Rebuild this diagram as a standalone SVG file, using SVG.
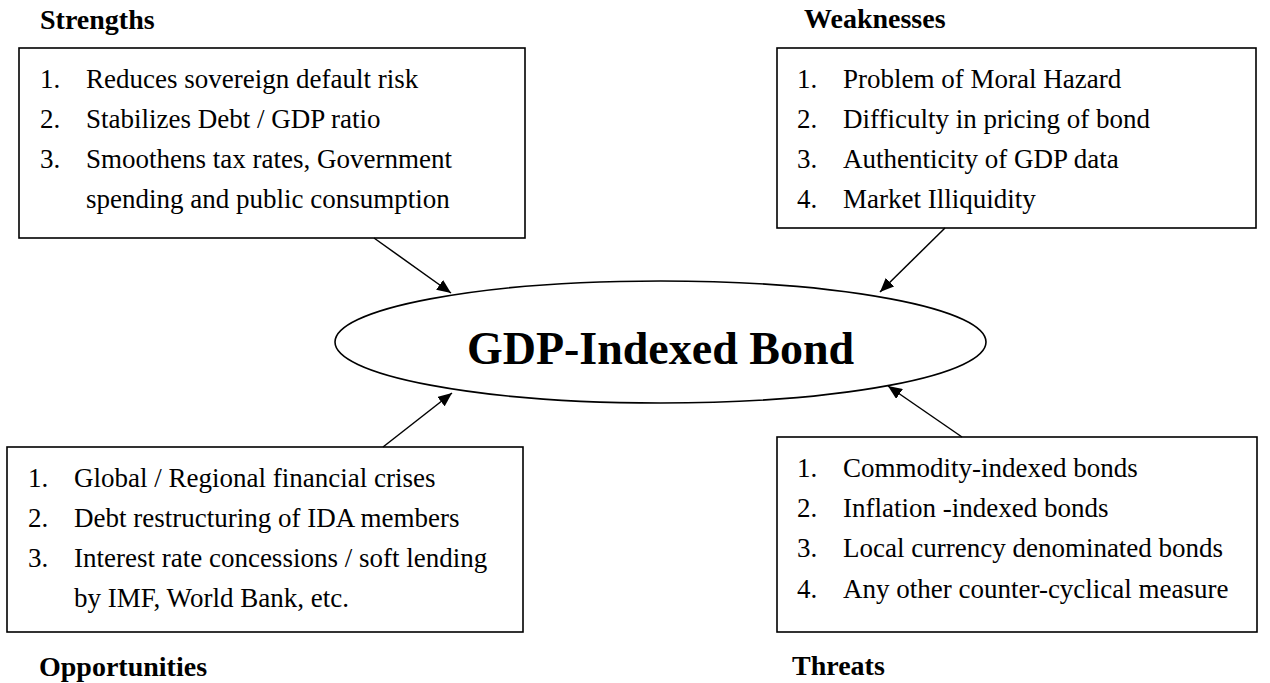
<svg xmlns="http://www.w3.org/2000/svg" width="1270" height="683" viewBox="0 0 1270 683">
<style>
text{font-family:"Liberation Serif","Times New Roman",serif;fill:#000}
.item{font-size:27px}
.label{font-size:28px;font-weight:bold}
.title{font-size:46px;font-weight:bold}
.box{fill:#fff;stroke:#000;stroke-width:1.6}
.conn{stroke:#000;stroke-width:1.5;fill:none}
</style>
<defs>
<marker id="ah" viewBox="0 0 14 12" refX="14" refY="6" markerWidth="14" markerHeight="12" markerUnits="userSpaceOnUse" orient="auto">
<path d="M0,0 L14,6 L0,12 Z" fill="#000"/>
</marker>
</defs>
<rect width="1270" height="683" fill="#fff"/>

<g id="strengths">
<text class="label" x="40" y="29">Strengths</text>
<rect class="box" x="19" y="48" width="506" height="190"/>
<text class="item" x="40" y="88">1.</text><text class="item" x="86" y="88">Reduces sovereign default risk</text>
<text class="item" x="40" y="128">2.</text><text class="item" x="86" y="128">Stabilizes Debt / GDP ratio</text>
<text class="item" x="40" y="168">3.</text><text class="item" x="86" y="168">Smoothens tax rates, Government</text>
<text class="item" x="86" y="208">spending and public consumption</text>
</g>

<g id="weaknesses">
<text class="label" x="804" y="28">Weaknesses</text>
<rect class="box" x="777" y="48" width="479" height="180"/>
<text class="item" x="797" y="88">1.</text><text class="item" x="843" y="88">Problem of Moral Hazard</text>
<text class="item" x="797" y="128">2.</text><text class="item" x="843" y="128">Difficulty in pricing of bond</text>
<text class="item" x="797" y="168">3.</text><text class="item" x="843" y="168">Authenticity of GDP data</text>
<text class="item" x="797" y="208">4.</text><text class="item" x="843" y="208">Market Illiquidity</text>
</g>

<g id="center">
<ellipse cx="660.5" cy="342" rx="325.5" ry="61" fill="#fff" stroke="#000" stroke-width="1.6"/>
<text class="title" x="660.5" y="364" text-anchor="middle">GDP-Indexed Bond</text>
</g>

<g id="opportunities">
<rect class="box" x="7" y="447" width="516" height="185"/>
<text class="item" x="28" y="487">1.</text><text class="item" x="74" y="487">Global / Regional financial crises</text>
<text class="item" x="28" y="527">2.</text><text class="item" x="74" y="527">Debt restructuring of IDA members</text>
<text class="item" x="28" y="567">3.</text><text class="item" x="74" y="567">Interest rate concessions / soft lending</text>
<text class="item" x="74" y="607">by IMF, World Bank, etc.</text>
<text class="label" x="39" y="676">Opportunities</text>
</g>

<g id="threats">
<rect class="box" x="777" y="437" width="480" height="195"/>
<text class="item" x="797" y="477">1.</text><text class="item" x="843" y="477">Commodity-indexed bonds</text>
<text class="item" x="797" y="517">2.</text><text class="item" x="843" y="517">Inflation -indexed bonds</text>
<text class="item" x="797" y="557">3.</text><text class="item" x="843" y="557">Local currency denominated bonds</text>
<text class="item" x="797" y="598">4.</text><text class="item" x="843" y="598">Any other counter-cyclical measure</text>
<text class="label" x="792" y="675">Threats</text>
</g>

<g id="connectors">
<line class="conn" x1="374" y1="238" x2="451" y2="293" marker-end="url(#ah)"/>
<line class="conn" x1="945" y1="228" x2="880" y2="292" marker-end="url(#ah)"/>
<line class="conn" x1="383" y1="447" x2="452" y2="393" marker-end="url(#ah)"/>
<line class="conn" x1="962" y1="437" x2="888" y2="386" marker-end="url(#ah)"/>
</g>
</svg>
